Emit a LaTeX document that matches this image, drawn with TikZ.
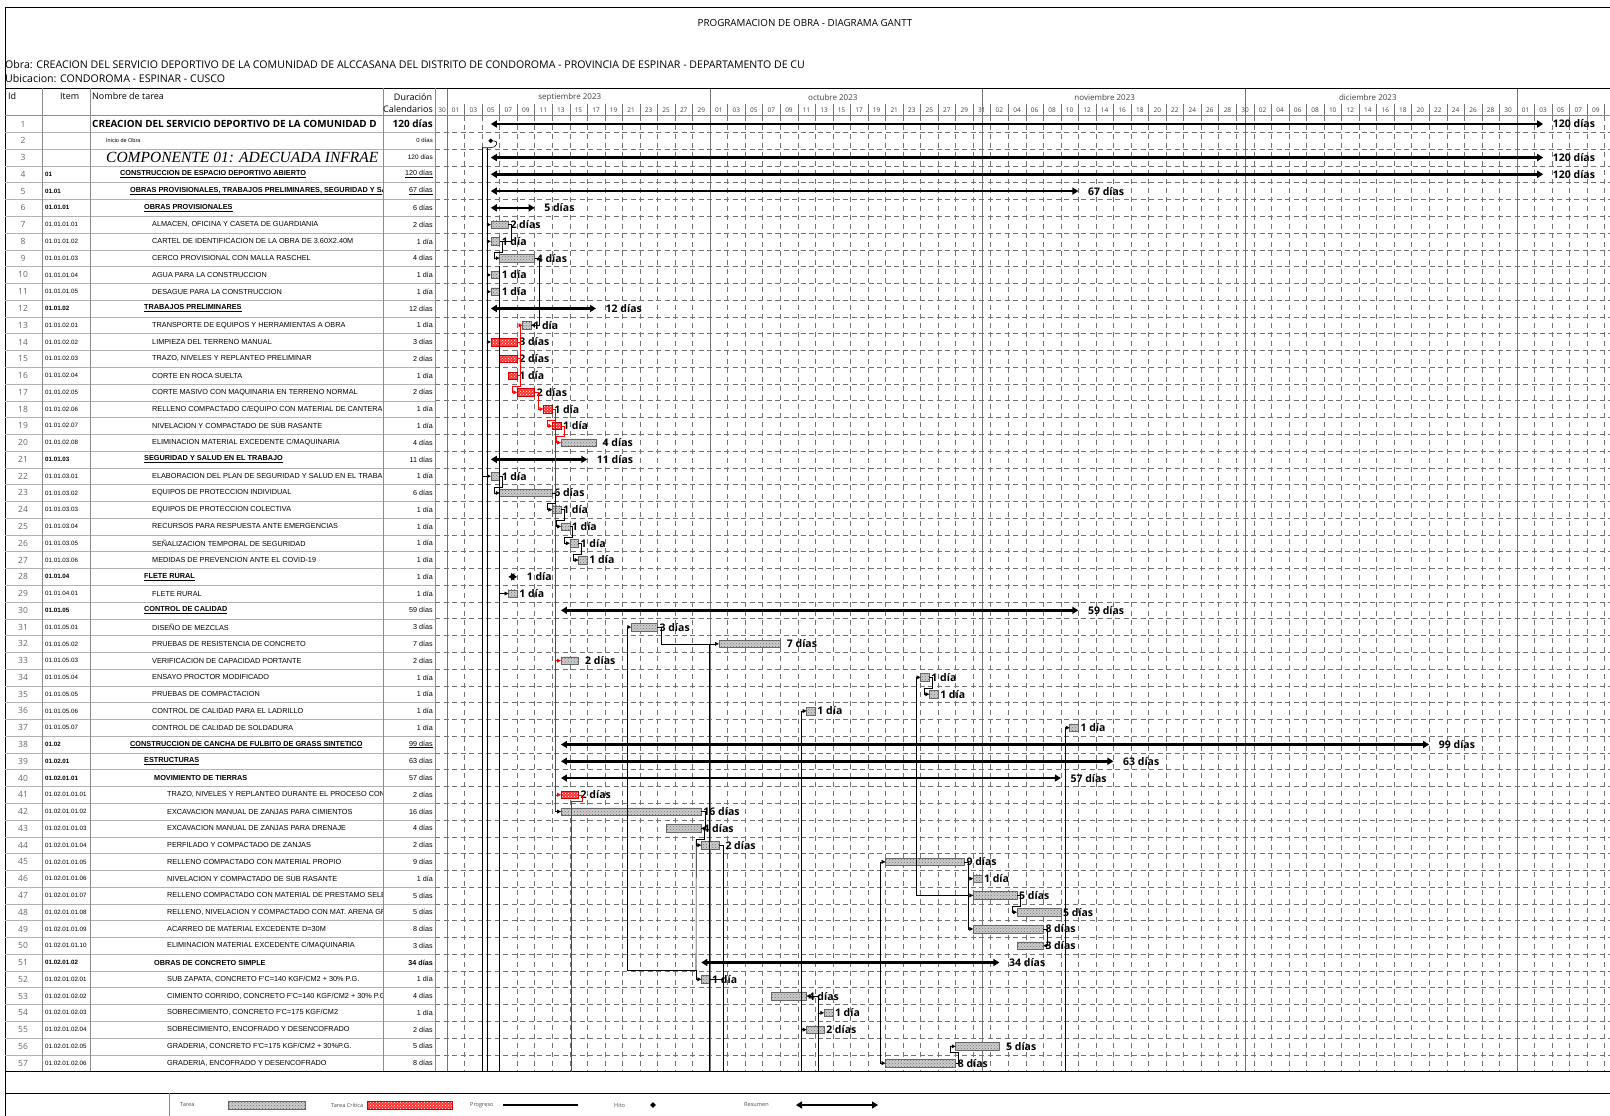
\documentclass[tikz,border=0pt]{standalone}
\usepackage{fontspec}
\setmainfont{Open Sans}
\newfontfamily\cellf{Liberation Sans}
\newfontfamily\serf{Liberation Serif}
\usetikzlibrary{patterns,arrows.meta,calc,shapes.geometric}
\def\xd#1{429.4+8.77*(#1)}
\def\yr#1{124+16.77*(#1-1)}
\tikzset{
 tbar/.style={draw=black!60, line width=0.4pt, minimum height=7.5pt, inner sep=0pt, outer sep=0pt, preaction={fill=black!20}, pattern=crosshatch dots, pattern color=black!55},
 cbar/.style={draw=red!80!black, line width=0.4pt, minimum height=7.5pt, inner sep=0pt, outer sep=0pt, preaction={fill=red!80}, pattern=crosshatch dots, pattern color=white},
 summ/.style={line width=2.6pt, {Triangle[length=6pt,width=7pt]}-{Triangle[length=6pt,width=7pt]}},
 lnk/.style={line width=0.6pt, -{Triangle[length=3.8pt,width=3.8pt]}},
 lk0/.style={line width=0.6pt},
 clnk/.style={lnk, draw=red},
 cl0/.style={lk0, draw=red},
 lbl/.style={font=\bfseries\fontsize{10.5}{11}\selectfont, inner sep=0.5pt, anchor=west},
 idf/.style={font=\fontsize{8.5}{9}\selectfont, text=black!60, inner sep=0pt},
 itf/.style={font=\cellf\fontsize{6.2}{7}\selectfont, inner sep=0pt, anchor=west},
 nm/.style={font=\cellf\fontsize{7.3}{8}\selectfont, inner sep=0pt, anchor=west},
 nmb/.style={font=\cellf\bfseries\fontsize{7.3}{8}\selectfont, inner sep=0pt, anchor=west},
 duf/.style={font=\cellf\fontsize{7.2}{8}\selectfont, inner sep=0pt, anchor=east},
 hdf/.style={font=\fontsize{9}{10}\selectfont, inner sep=0pt},
 dayf/.style={font=\fontsize{6.5}{7}\selectfont, text=black!75, inner sep=0pt},
 monf/.style={font=\fontsize{8}{9}\selectfont, text=black!75, inner sep=0pt},
 lgf/.style={font=\fontsize{5.6}{7}\selectfont, text=black!70, inner sep=0pt, anchor=west},
 rowline/.style={draw=black!30, line width=0.4pt},
 colline/.style={draw=black!45, line width=0.5pt},
 hgrid/.style={draw=black!55, line width=0.45pt, dash pattern=on 5pt off 3.5pt},
 vgrid/.style={draw=black!55, line width=0.45pt, dash pattern=on 5pt off 4pt},
 month/.style={draw=black!55, line width=0.6pt},
}
\newcommand\TK[5]{%
 \pgfmathsetmacro\tkw{8.77*(#4)}%
 \node[#5,minimum width=\tkw pt,anchor=west] (#1) at ({\xd{#3}},{\yr{#2}}) {};}
\newcommand\TL[2]{\node[lbl] (#1l) at ([xshift=1.5pt]#1.east) {#2};}
\newcommand\SM[5]{%
 \coordinate (#1a) at ({\xd{#3}},{\yr{#2}});
 \coordinate (#1b) at ({\xd{#3+#4}},{\yr{#2}});
 \draw[summ] (#1a) -- (#1b);
 \node[lbl] (#1l) at ([xshift=9pt]#1b) {#5};}
\newcommand\RW[6]{%
 \node[idf] (id#1) at (23,{\yr{#1}}) {#1};
 \node[itf] (it#1) at (45,{\yr{#1}}) {#2};
 \begin{scope}
 \clip (90,{\yr{#1}-8}) rectangle (382,{\yr{#1}+8});
 \node[#4] (nm#1) at (#3,{\yr{#1}}) {#5};
 \end{scope}
 \node[duf] (du#1) at (433,{\yr{#1}}) {#6};}
\newcommand\LOOP[3][lnk]{\draw[#1] (#2.east) -- ++(3,0) |- ($(#3.west)+(-5,-6)$) |- (#3.west);}
\newcommand\FWD[3][lnk]{\draw[#1] (#2.east) -- ++(4,0) |- (#3.west);}
\begin{document}
\begin{tikzpicture}[x=1pt,y=-1pt]
\useasboundingbox (0,0) rectangle (1610,1116);
\fill[white] (0,0) rectangle (1610,1116);
% frame and titles
\draw[line width=1pt] (5,1116) -- (5,8) -- (1610,8);
\node[font=\fontsize{9.8}{11}\selectfont] (title) at (805,23) {PROGRAMACION DE OBRA - DIAGRAMA GANTT};
\node[anchor=west, inner sep=0pt, font=\fontsize{10.6}{12}\selectfont] (obra) at (5,65) {Obra: CREACION DEL SERVICIO DEPORTIVO DE LA COMUNIDAD DE ALCCASANA DEL DISTRITO DE CONDOROMA - PROVINCIA DE ESPINAR - DEPARTAMENTO DE CU};
\node[anchor=west, inner sep=0pt, font=\fontsize{10.6}{12}\selectfont] (ubic) at (5,78.5) {Ubicacion: CONDOROMA - ESPINAR - CUSCO};
% grid
\begin{scope}
\clip (435,115.6) rectangle (1610,1071.5);
\foreach \k in {0,...,70} \draw[vgrid] ({\xd{2*\k}},115.6) -- ({\xd{2*\k}},1071.5);
\foreach \n in {1,...,57} \draw[hgrid] (435,{\yr{\n}+8.385}) -- (1610,{\yr{\n}+8.385});
\end{scope}
\begin{scope}
\clip (435,88) rectangle (1610,1071.5);
\foreach \m in {2,32,63,93,124} \draw[month] ({\xd{\m}},88) -- ({\xd{\m}},1071.5);
\foreach \k in {1,...,70} \draw[black!55, line width=0.45pt] ({\xd{2*\k}},103.5) -- ({\xd{2*\k}},115.6);
\end{scope}
% table lines
\draw[line width=0.8pt] (5,88) -- (1610,88);
\draw[colline] (5,115.6) -- (1610,115.6);
\foreach \n in {1,...,57} \draw[rowline] (5,{\yr{\n}+8.385}) -- (435,{\yr{\n}+8.385});
\foreach \c in {42,90,383,435} \draw[colline] (\c,88) -- (\c,1071.5);
\draw[line width=0.8pt] (5,1071.5) -- (1610,1071.5);
\draw[line width=0.8pt] (5,1093) -- (1610,1093);
\draw[colline] (169,1093) -- (169,1116);
% header
\node[hdf, anchor=west] (hid) at (8,96.5) {Id};
\node[hdf, anchor=west] (hit) at (60,96.5) {Item};
\node[hdf, anchor=west] (hnm) at (92,96.5) {Nombre de tarea};
\node[hdf] (hdu1) at (413,97.5) {Duración};
\node[hdf] (hdu2) at (408,109.5) {Calendarios};
\node[monf] (mo1) at ({\xd{16}},97.5) {septiembre 2023};
\node[monf] (mo2) at ({\xd{46}},97.5) {octubre 2023};
\node[monf] (mo3) at ({\xd{77}},97.5) {noviembre 2023};
\node[monf] (mo4) at ({\xd{107}},97.5) {diciembre 2023};
\node[dayf] (dl0) at (442,110) {30};
\foreach \lab [count=\k from 1] in {01,03,05,07,09,11,13,15,17,19,21,23,25,27,29,01,03,05,07,09,11,13,15,17,19,21,23,25,27,29,31,02,04,06,08,10,12,14,16,18,20,22,24,26,28,30,02,04,06,08,10,12,14,16,18,20,22,24,26,28,30,01,03,05,07,09}
  \node[dayf] (dl\k) at ({\xd{2*\k+1}},110) {\lab};
% table rows
\RW{1}{}{92}{nm}{\normalfont\bfseries\fontsize{9.9}{10}\selectfont CREACION DEL SERVICIO DEPORTIVO DE LA COMUNIDAD D}{\normalfont\bfseries\fontsize{10}{11}\selectfont 120 días}
\RW{2}{}{106}{nm}{\fontsize{5.5}{6}\selectfont Inicio de Obra}{\fontsize{6}{7}\selectfont 0 días}
\RW{3}{}{106}{nm}{\serf\itshape\fontsize{15.5}{16}\selectfont COMPONENTE 01: ADECUADA INFRAE}{\fontsize{6.5}{7}\selectfont 120 días}
\RW{4}{\textbf{01}}{120}{nmb}{\underline{CONSTRUCCION DE ESPACIO DEPORTIVO ABIERTO}}{\underline{120 días}}
\RW{5}{\textbf{01.01}}{130}{nmb}{\underline{OBRAS PROVISIONALES, TRABAJOS PRELIMINARES, SEGURIDAD Y SA}}{\underline{67 días}}
\RW{6}{\textbf{01.01.01}}{144}{nmb}{\underline{OBRAS PROVISIONALES}}{6 días}
\RW{7}{01.01.01.01}{152}{nm}{ALMACEN, OFICINA Y CASETA DE GUARDIANIA}{2 días}
\RW{8}{01.01.01.02}{152}{nm}{CARTEL DE IDENTIFICACION DE LA OBRA DE 3.60X2.40M}{1 día}
\RW{9}{01.01.01.03}{152}{nm}{CERCO PROVISIONAL CON MALLA RASCHEL}{4 días}
\RW{10}{01.01.01.04}{152}{nm}{AGUA PARA LA CONSTRUCCION}{1 día}
\RW{11}{01.01.01.05}{152}{nm}{DESAGUE PARA LA CONSTRUCCION}{1 día}
\RW{12}{\textbf{01.01.02}}{144}{nmb}{\underline{TRABAJOS PRELIMINARES}}{12 días}
\RW{13}{01.01.02.01}{152}{nm}{TRANSPORTE DE EQUIPOS Y HERRAMIENTAS A OBRA}{1 día}
\RW{14}{01.01.02.02}{152}{nm}{LIMPIEZA DEL TERRENO MANUAL}{3 días}
\RW{15}{01.01.02.03}{152}{nm}{TRAZO, NIVELES Y REPLANTEO PRELIMINAR}{2 días}
\RW{16}{01.01.02.04}{152}{nm}{CORTE EN ROCA SUELTA}{1 día}
\RW{17}{01.01.02.05}{152}{nm}{CORTE MASIVO CON MAQUINARIA EN TERRENO NORMAL}{2 días}
\RW{18}{01.01.02.06}{152}{nm}{RELLENO COMPACTADO C/EQUIPO CON MATERIAL DE CANTERA}{1 día}
\RW{19}{01.01.02.07}{152}{nm}{NIVELACION Y COMPACTADO DE SUB RASANTE}{1 día}
\RW{20}{01.01.02.08}{152}{nm}{ELIMINACION MATERIAL EXCEDENTE C/MAQUINARIA}{4 días}
\RW{21}{\textbf{01.01.03}}{144}{nmb}{\underline{SEGURIDAD Y SALUD EN EL TRABAJO}}{11 días}
\RW{22}{01.01.03.01}{152}{nm}{ELABORACION DEL PLAN DE SEGURIDAD Y SALUD EN EL TRABA,}{1 día}
\RW{23}{01.01.03.02}{152}{nm}{EQUIPOS DE PROTECCION INDIVIDUAL}{6 días}
\RW{24}{01.01.03.03}{152}{nm}{EQUIPOS DE PROTECCION COLECTIVA}{1 día}
\RW{25}{01.01.03.04}{152}{nm}{RECURSOS PARA RESPUESTA ANTE EMERGENCIAS}{1 día}
\RW{26}{01.01.03.05}{152}{nm}{SEÑALIZACION TEMPORAL DE SEGURIDAD}{1 día}
\RW{27}{01.01.03.06}{152}{nm}{MEDIDAS DE PREVENCION ANTE EL COVID-19}{1 día}
\RW{28}{\textbf{01.01.04}}{144}{nmb}{\underline{FLETE RURAL}}{1 día}
\RW{29}{01.01.04.01}{152}{nm}{FLETE RURAL}{1 día}
\RW{30}{\textbf{01.01.05}}{144}{nmb}{\underline{CONTROL DE CALIDAD}}{59 días}
\RW{31}{01.01.05.01}{152}{nm}{DISEÑO DE MEZCLAS}{3 días}
\RW{32}{01.01.05.02}{152}{nm}{PRUEBAS DE RESISTENCIA DE CONCRETO}{7 días}
\RW{33}{01.01.05.03}{152}{nm}{VERIFICACION DE CAPACIDAD PORTANTE}{2 días}
\RW{34}{01.01.05.04}{152}{nm}{ENSAYO PROCTOR MODIFICADO}{1 día}
\RW{35}{01.01.05.05}{152}{nm}{PRUEBAS DE COMPACTACION}{1 día}
\RW{36}{01.01.05.06}{152}{nm}{CONTROL DE CALIDAD PARA EL LADRILLO}{1 día}
\RW{37}{01.01.05.07}{152}{nm}{CONTROL DE CALIDAD DE SOLDADURA}{1 día}
\RW{38}{\textbf{01.02}}{130}{nmb}{\underline{CONSTRUCCION DE CANCHA DE FULBITO DE GRASS SINTETICO}}{\underline{99 días}}
\RW{39}{\textbf{01.02.01}}{144}{nmb}{\underline{ESTRUCTURAS}}{63 días}
\RW{40}{\textbf{01.02.01.01}}{154}{nmb}{MOVIMIENTO DE TIERRAS}{57 días}
\RW{41}{01.02.01.01.01}{167}{nm}{TRAZO, NIVELES Y REPLANTEO DURANTE EL PROCESO CONS}{2 días}
\RW{42}{01.02.01.01.02}{167}{nm}{EXCAVACION MANUAL DE ZANJAS PARA CIMIENTOS}{16 días}
\RW{43}{01.02.01.01.03}{167}{nm}{EXCAVACION MANUAL DE ZANJAS PARA DRENAJE}{4 días}
\RW{44}{01.02.01.01.04}{167}{nm}{PERFILADO Y COMPACTADO DE ZANJAS}{2 días}
\RW{45}{01.02.01.01.05}{167}{nm}{RELLENO COMPACTADO CON MATERIAL PROPIO}{9 días}
\RW{46}{01.02.01.01.06}{167}{nm}{NIVELACION Y COMPACTADO DE SUB RASANTE}{1 día}
\RW{47}{01.02.01.01.07}{167}{nm}{RELLENO COMPACTADO CON MATERIAL DE PRESTAMO SELE}{5 días}
\RW{48}{01.02.01.01.08}{167}{nm}{RELLENO, NIVELACION Y COMPACTADO CON MAT. ARENA GR}{5 días}
\RW{49}{01.02.01.01.09}{167}{nm}{ACARREO DE MATERIAL EXCEDENTE D=30M}{8 días}
\RW{50}{01.02.01.01.10}{167}{nm}{ELIMINACION MATERIAL EXCEDENTE C/MAQUINARIA}{3 días}
\RW{51}{\textbf{01.02.01.02}}{154}{nmb}{OBRAS DE CONCRETO SIMPLE}{\textbf{34 días}}
\RW{52}{01.02.01.02.01}{167}{nm}{SUB ZAPATA, CONCRETO F'C=140 KGF/CM2 + 30\% P.G.}{1 día}
\RW{53}{01.02.01.02.02}{167}{nm}{CIMIENTO CORRIDO, CONCRETO F'C=140 KGF/CM2 + 30\% P.G}{4 días}
\RW{54}{01.02.01.02.03}{167}{nm}{SOBRECIMIENTO, CONCRETO F'C=175 KGF/CM2}{1 día}
\RW{55}{01.02.01.02.04}{167}{nm}{SOBRECIMIENTO, ENCOFRADO Y DESENCOFRADO}{2 días}
\RW{56}{01.02.01.02.05}{167}{nm}{GRADERIA, CONCRETO F'C=175 KGF/CM2 + 30\%P.G.}{5 días}
\RW{57}{01.02.01.02.06}{167}{nm}{GRADERIA, ENCOFRADO Y DESENCOFRADO}{8 días}
% bars
\SM{s1}{1}{7}{120}{120 días}
\node[diamond, fill=black, inner sep=0pt, minimum size=5pt] (m2) at ({\xd{7}},{\yr{2}}) {};
\SM{s3}{3}{7}{120}{120 días}
\SM{s4}{4}{7}{120}{120 días}
\SM{s5}{5}{7}{67}{67 días}
\SM{s6}{6}{7}{5}{5 días}
\TK{t7}{7}{7}{2}{tbar}\TL{t7}{2 días}
\TK{t8}{8}{7}{1}{tbar}\TL{t8}{1 día}
\TK{t9}{9}{8}{4}{tbar}\TL{t9}{4 días}
\TK{t10}{10}{7}{1}{tbar}\TL{t10}{1 día}
\TK{t11}{11}{7}{1}{tbar}\TL{t11}{1 día}
\SM{s12}{12}{7}{12}{12 días}
\TK{t13}{13}{10.6}{1}{tbar}\TL{t13}{1 día}
\TK{t14}{14}{7}{3}{cbar}\TL{t14}{3 días}
\TK{t15}{15}{8}{2}{cbar}\TL{t15}{2 días}
\TK{t16}{16}{9}{1}{cbar}\TL{t16}{1 día}
\TK{t17}{17}{10}{2}{cbar}\TL{t17}{2 días}
\TK{t18}{18}{13}{1}{cbar}\TL{t18}{1 día}
\TK{t19}{19}{14}{1}{cbar}\TL{t19}{1 día}
\TK{t20}{20}{15}{4}{tbar}\node[lbl] (t20l) at ([xshift=6pt]t20.east) {4 días};
\SM{s21}{21}{7}{11}{11 días}
\TK{t22}{22}{7}{1}{tbar}\TL{t22}{1 día}
\TK{t23}{23}{8}{6}{tbar}\TL{t23}{6 días}
\TK{t24}{24}{14}{1}{tbar}\TL{t24}{1 día}
\TK{t25}{25}{15}{1}{tbar}\TL{t25}{1 día}
\TK{t26}{26}{16}{1}{tbar}\TL{t26}{1 día}
\TK{t27}{27}{17}{1}{tbar}\TL{t27}{1 día}
\SM{s28}{28}{9}{1}{1 día}
\TK{t29}{29}{9}{1}{tbar}\TL{t29}{1 día}
\SM{s30}{30}{15}{59}{59 días}
\TK{t31}{31}{23}{3}{tbar}\TL{t31}{3 días}
\TK{t32}{32}{33}{7}{tbar}\node[lbl] (t32l) at ([xshift=6pt]t32.east) {7 días};
\TK{t33}{33}{15}{2}{tbar}\node[lbl] (t33l) at ([xshift=6pt]t33.east) {2 días};
\TK{t34}{34}{56}{1}{tbar}\TL{t34}{1 día}
\TK{t35}{35}{57}{1}{tbar}\TL{t35}{1 día}
\TK{t36}{36}{43}{1}{tbar}\TL{t36}{1 día}
\TK{t37}{37}{73}{1}{tbar}\TL{t37}{1 día}
\SM{s38}{38}{15}{99}{99 días}
\SM{s39}{39}{15}{63}{63 días}
\SM{s40}{40}{15}{57}{57 días}
\TK{t41}{41}{15}{2}{cbar}\TL{t41}{2 días}
\TK{t42}{42}{15}{16}{tbar}\TL{t42}{16 días}
\TK{t43}{43}{27}{4}{tbar}\TL{t43}{4 días}
\TK{t44}{44}{31}{2}{tbar}\node[lbl] (t44l) at ([xshift=6pt]t44.east) {2 días};
\TK{t45}{45}{52}{9}{tbar}\TL{t45}{9 días}
\TK{t46}{46}{62}{1}{tbar}\TL{t46}{1 día}
\TK{t47}{47}{62}{5}{tbar}\TL{t47}{5 días}
\TK{t48}{48}{67}{5}{tbar}\TL{t48}{5 días}
\TK{t49}{49}{62}{8}{tbar}\TL{t49}{8 días}
\TK{t50}{50}{67}{3}{tbar}\TL{t50}{3 días}
\SM{s51}{51}{31}{34}{34 días}
\TK{t52}{52}{31}{1}{tbar}\TL{t52}{1 día}
\TK{t53}{53}{39}{4}{tbar}\TL{t53}{4 días}
\TK{t54}{54}{45}{1}{tbar}\TL{t54}{1 día}
\TK{t55}{55}{43}{2}{tbar}\TL{t55}{2 días}
\TK{t56}{56}{60}{5}{tbar}\node[lbl] (t56l) at ([xshift=6pt]t56.east) {5 días};
\TK{t57}{57}{52}{8}{tbar}\TL{t57}{8 días}
% link lines
\coordinate (bl) at (435,1071.5);
\coordinate (v1t) at ({\xd{6}},{\yr{2}+7});
\coordinate (v2t) at ({\xd{6.6}},{\yr{2}+7});
\draw[lk0] (m2.east) .. controls +(6,0) and +(6,0) .. ({\xd{7}},{\yr{2}+7}) -- (v1t);
\draw[lk0] (v1t) -- (v1t |- bl);
\draw[lk0] (v2t) -- (v2t |- bl);
\foreach \t in {t7,t8,t10,t11,t14} \draw[lnk] (v2t |- \t.west) -- (\t.west);
\draw[lnk] (v1t |- t22.west) -- (t22.west);
\coordinate (v3t) at ({\xd{8}},{\yr{9}+8});
\draw[lk0] (v3t) -- (v3t |- bl);
\draw[lnk] (v3t |- t29.west) -- (t29.west);
\draw[lk0] (t7.east) -- ++(3,0) |- (t8.east);
\LOOP{t8}{t9}
\draw[lnk] (t9.east) -- ++(5,0) |- (t13.east);
% critical chain
\draw[clnk] (t14.east) -- ++(3,0) |- (t13.west);
\draw[cl0] (t15.east) -- ++(3,0);
\draw[cl0] (t16.east) -- ++(3,0);
\draw[cl0] ($(t14.east)+(3,0)$) -- ($(t16.east)+(3,0)$);
\LOOP[clnk]{t16}{t17}
\FWD[clnk]{t17}{t18}
\LOOP[clnk]{t18}{t19}
\LOOP[clnk]{t19}{t20}
\coordinate (r1t) at ({\xd{14.3}},{\yr{18}+8});
\coordinate (r1b) at ({\xd{14.3}},{\yr{42}});
\draw[cl0] (r1t) -- (r1b);
\draw[clnk] (r1t |- t33.west) -- (t33.west);
\draw[clnk] (r1t |- t41.west) -- (t41.west);
\draw[lnk] (r1b) -- (t42.west);
\coordinate (r2t) at ({\xd{16.2}},{\yr{41}+6});
\draw[cl0] (t41.east) -- ++(4,0) |- (r2t) -- (r2t |- bl);
% safety chain
\LOOP{t22}{t23}
\LOOP{t23}{t24}
\LOOP{t24}{t25}
\LOOP{t25}{t26}
\LOOP{t26}{t27}
% quality control and structures
\coordinate (c31) at ({\xd{22.6}},{\yr{31}});
\coordinate (c51) at ({\xd{22.6}},{\yr{51}+8});
\coordinate (c52) at ({\xd{30.4}},{\yr{51}+8});
\draw[lnk] (c51) -- (c31) -- (t31.west);
\draw[lnk] (c51) -- (c52) |- (t52.west);
\FWD{t31}{t32}
\coordinate (v4t) at ({\xd{31.9}},{\yr{32}});
\draw[lk0] (v4t) -- (v4t |- bl);
\draw[lnk] (t42.east) -- ++(4,0) |- (t43.east);
\LOOP{t43}{t44}
\draw[lk0] ($(t44.west)+(-5,-6)$) -- (c52);
\draw[lk0] (t44.east) -- ++(4,0) coordinate (v5t);
\draw[lk0] (v5t) -- (v5t |- bl);
\draw[lk0] (t52.east) -- (v5t |- t52.east);
\coordinate (v6t) at ({\xd{42.4}},{\yr{36}});
\draw[lnk] (v6t) -- (t36.west);
\draw[lk0] (v6t) -- (v6t |- bl);
\draw[lnk] (v6t |- t55.west) -- (t55.west);
\coordinate (v7t) at ({\xd{44.4}},{\yr{53}});
\draw[lnk] (v7t) -- (t53.east);
\draw[lk0] (v7t) -- (v7t |- bl);
\draw[lnk] (v7t |- t54.west) -- (t54.west);
\coordinate (v8t) at ({\xd{51.4}},{\yr{45}});
\draw[lnk] (v8t) -- (t45.west);
\draw[lnk] (v8t) |- (t57.west);
\coordinate (v9t) at ({\xd{55.5}},{\yr{34}});
\draw[lnk] (v9t) -- (t34.west);
\draw[lnk] (v9t) |- (t47.west);
\LOOP{t34}{t35}
\draw[lk0] (t45.east) -- ++(4,0) coordinate (c45);
\draw[lnk] (c45) |- (t46.west);
\draw[lnk] (c45) |- (t49.west);
\LOOP{t47}{t48}
\draw[lnk] (t49.east) -- ++(4,0) |- (t50.east);
\draw[lnk] (t57.east) -- ++(3,0) |- ($(t56.west)+(-5,6)$) |- (t56.west);
\coordinate (v10t) at ({\xd{72.5}},{\yr{37}});
\draw[lnk] (v10t) -- (t37.west);
\draw[lk0] (v10t) -- (v10t |- bl);
% legend
\node[lgf] (lg1) at (180,1105) {Tarea};
\node[tbar, minimum width=77pt] (lg1b) at (266.5,1105) {};
\node[lgf] (lg2) at (331,1105) {Tarea Crítica};
\node[cbar, minimum width=85pt] (lg2b) at (409.5,1105) {};
\node[lgf] (lg3) at (470,1105) {Progreso};
\coordinate (lg3a) at (503,1105); \coordinate (lg3b) at (578,1105);
\draw[line width=1.6pt] (lg3a) -- (lg3b);
\node[lgf] (lg4) at (614,1105) {Hito};
\node[diamond, fill=black, inner sep=0pt, minimum size=6pt] (lg4d) at (653,1105) {};
\node[lgf] (lg5) at (744,1105) {Resumen};
\coordinate (lg5a) at (796,1105); \coordinate (lg5b) at (878,1105);
\draw[summ] (lg5a) -- (lg5b);
\end{tikzpicture}
\end{document}
